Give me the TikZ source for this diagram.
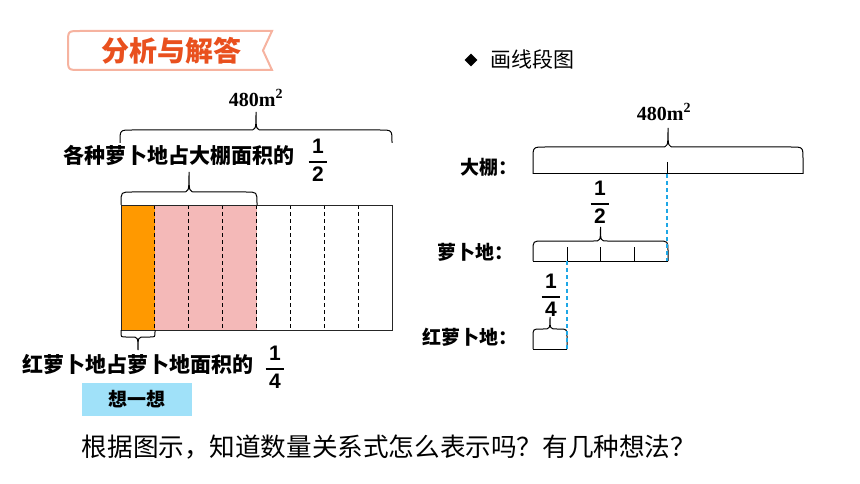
\documentclass[tikz,border=0pt]{standalone}
\usepackage{fontspec}
\setmainfont{Liberation Serif}
\setsansfont{Liberation Sans}
\newfontfamily\cjk{Noto Sans CJK SC}
\usetikzlibrary{positioning, shapes.geometric}
\definecolor{ctitle}{HTML}{E9501E}
\definecolor{cbanner}{HTML}{F6B3A0}
\definecolor{corange}{HTML}{FF9900}
\definecolor{cpink}{HTML}{F4B9B8}
\definecolor{cthink}{HTML}{A0E1F9}
\definecolor{cguide}{HTML}{1EA7E6}
\tikzset{
  every picture/.style={x=1pt, y=-1pt, line width=0.8pt},
  lbl/.style={font=\cjk\bfseries\fontsize{21}{21}\selectfont, inner sep=0pt},
  rlbl/.style={font=\cjk\bfseries\fontsize{19}{19}\selectfont, inner sep=0pt},
  area/.style={font=\bfseries\fontsize{20}{20}\selectfont, inner sep=0pt},
  frc/.style={font=\sffamily\bfseries\fontsize{21}{21}\selectfont, inner sep=0pt},
  brc/.style={draw=black, line width=1pt},
  cut/.style={draw=black, dash pattern=on 4pt off 3pt, line width=0.8pt},
  guide/.style={draw=cguide, dash pattern=on 4pt off 3pt, line width=1.3pt},
}
\newcommand{\fr}[2]{$\displaystyle{\mbox{\,#1\,}\above1.3pt\mbox{\,#2\,}}$}
% brace: from x, to x, end y, side y, tip y, corner (negative = downward)
\newcommand{\hbrace}[6]{%
  \pgfmathsetmacro{\bmid}{(#1+#2)/2}
  \pgfmathsetmacro{\bc}{abs(#6)}
  \draw[brc] (#1,#3) -- ({#1},{#4+#6}) .. controls (#1,#4) .. ({#1+\bc},#4)
    -- ({\bmid-7},#4) .. controls (\bmid,#4) .. (\bmid,#5)
    .. controls (\bmid,#4) .. ({\bmid+7},#4)
    -- ({#2-\bc},#4) .. controls (#2,#4) .. ({#2},{#4+#6}) -- (#2,#3);
}

\begin{document}
\begin{tikzpicture}[
    think/.style={fill=cthink, minimum width=110pt, minimum height=33pt, inner sep=0pt,
      font=\cjk\bfseries\fontsize{19}{19}\selectfont},
    ask/.style={font=\cjk\fontsize{25.6}{25.6}\selectfont, inner sep=0pt},
  ]
  \useasboundingbox (0,0) rectangle (860,484);

  % title banner
  \draw[draw=cbanner, line width=2pt, fill=white] (272,31) -- (80,31) .. controls (68,31) .. (68,43)
    -- (68,58) .. controls (68,70) .. (80,70) -- (272,70) -- (263,50.5) -- cycle;
  \node[font=\cjk\bfseries\fontsize{28}{28}\selectfont, text=ctitle, inner sep=0pt] (title) at (171,51) {分析与解答};

  % left: area model
  \node[area] (tot) at (256,98) {480m\textsuperscript{2}};
  \hbrace{120}{392}{143}{130}{112}{12}
  \node[lbl, anchor=west] (half) at (63,155) {各种萝卜地占大棚面积的};
  \node[frc] (halfn) at (318,160) {\fr{1}{2}};
  \hbrace{121}{257}{205}{192}{172}{11}

  \fill[corange] (121,205) rectangle (155,330);
  \fill[cpink] (155,205) rectangle (257,330);
  \foreach \i in {1,...,7}
    \draw[cut] ({121+33.875*\i},205) -- ({121+33.875*\i},330);
  \draw[draw=black!85] (121,205) rectangle (392,330);

  \hbrace{121}{155}{330}{337}{350}{-5}
  \node[lbl, anchor=west] (quart) at (22,365) {红萝卜地占萝卜地面积的};
  \node[frc] (quartn) at (275,367) {\fr{1}{4}};
  \node[think] (idea) at (137,399) {想一想};

  % right: line segments
  \node[diamond, fill=black, inner sep=0pt, minimum size=13pt] (dot) at (471,60) {};
  \node[font=\cjk\fontsize{21}{21}\selectfont, inner sep=0pt, right=12pt of dot] (draw) {画线段图};

  \node[area] (tot2) at (664,112) {480m\textsuperscript{2}};
  \node[rlbl, anchor=west] (shed) at (460,167) {大棚：};
  \hbrace{533}{803}{174}{147}{128}{12}
  \draw[brc] (533,174) -- (803,174);
  \draw[brc] (667,162) -- (667,174);

  \node[frc] (half2) at (600,202) {\fr{1}{2}};
  \node[rlbl, anchor=west] (radish) at (437,252) {萝卜地：};
  \hbrace{533}{668}{261}{241}{227}{10}
  \draw[brc] (533,261) -- (668,261);
  \foreach \x in {567,600,634}
    \draw[brc] (\x,247) -- (\x,261);
  \draw[guide] (667,174) -- (667,261);

  \node[frc] (quart2) at (551,295) {\fr{1}{4}};
  \node[rlbl, anchor=west] (red) at (422,337) {红萝卜地：};
  \hbrace{533}{567}{349}{329}{317}{8}
  \draw[brc] (533,349) -- (567,349);
  \draw[guide] (567,261) -- (567,349);

  % question
  \node[ask] (q) at (389,447) {根据图示，知道数量关系式怎么表示吗？有几种想法？};
\end{tikzpicture}
\end{document}
